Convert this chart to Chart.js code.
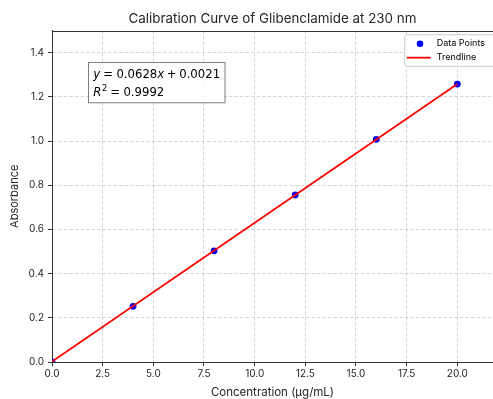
<!DOCTYPE html>
<html>
<head>
<meta charset="utf-8">
<script src="https://cdn.jsdelivr.net/npm/chart.js@4.4.1/dist/chart.umd.min.js"></script>
<style>
  html, body { margin: 0; padding: 0; background: #fff; overflow: hidden; }
  #wrap { width: 493px; height: 399px; }
</style>
</head>
<body>
<div id="wrap"><canvas id="myChart" width="493" height="399"></canvas></div>
<script>
// data
const concentration = [0, 4, 8, 12, 16, 20];
const absorbance = [0.000, 0.252, 0.503, 0.756, 1.008, 1.258];
const trendX = [0, 20];
const trendY = [0.0021, 1.2581];
const xTickValues = [0, 2.5, 5, 7.5, 10, 12.5, 15, 17.5, 20];
const yTickValues = [0, 0.2, 0.4, 0.6, 0.8, 1.0, 1.2, 1.4];
const slopeText = '0.0628';
const interceptText = '0.0021';
const r2Text = '0.9992';

const FONT = 'Inter, "DejaVu Sans", sans-serif';
const AXIS_COLOR = '#333333';
const TEXT_COLOR = '#262626';

// draws a run of text pieces (mathtext-like), returns end x
function drawPieces(ctx, x, y, size, pieces) {
  for (const p of pieces) {
    x += (p.gap || 0) * size;
    ctx.font = p.font;
    const dy = p.raise ? -p.raise : 0;
    ctx.fillText(p.text, x, y + dy);
    x += ctx.measureText(p.text).width;
  }
  return x;
}

function drawEquationBox(ctx, area) {
  const left = area.left + 36.5, top = area.top + 31.9;
  ctx.fillStyle = 'rgba(255,255,255,0.85)';
  ctx.fillRect(left, top, 136.5, 40.3);
  ctx.strokeStyle = 'rgba(0,0,0,0.5)';
  ctx.lineWidth = 1;
  ctx.strokeRect(left, top, 136.5, 40.3);

  const s = 11.7;
  const rm = `${s}px "DejaVu Sans"`;
  const it = `oblique ${s}px "DejaVu Sans"`;
  const sup = `${(s * 0.7).toFixed(1)}px "DejaVu Sans"`;
  ctx.fillStyle = '#000';
  ctx.textBaseline = 'alphabetic';
  ctx.textAlign = 'left';
  const tx = left + 4.7;
  drawPieces(ctx, tx, top + 15.9, s, [
    { text: 'y', font: it },
    { text: '=', font: rm, gap: 0.278 },
    { text: slopeText, font: rm, gap: 0.278 },
    { text: 'x', font: it },
    { text: '+', font: rm, gap: 0.222 },
    { text: interceptText, font: rm, gap: 0.222 }
  ]);
  drawPieces(ctx, tx, top + 33.2, s, [
    { text: 'R', font: it },
    { text: '2', font: sup, gap: 0.05, raise: s * 0.38 },
    { text: '=', font: rm, gap: 0.278 },
    { text: r2Text, font: rm, gap: 0.278 }
  ]);
}

function drawLegend(ctx, chart) {
  const area = chart.chartArea;
  const r = area.right, t = area.top + 4.1;
  const x0 = r - 88.3, w = 92, h = 31.6;
  ctx.fillStyle = 'rgba(255,255,255,0.8)';
  ctx.strokeStyle = '#cccccc';
  ctx.lineWidth = 1;
  ctx.beginPath();
  ctx.roundRect(x0, t, w, h, 2);
  ctx.fill();
  ctx.stroke();

  const ds = chart.data.datasets;
  // scatter marker
  ctx.fillStyle = ds[0].backgroundColor;
  ctx.beginPath();
  ctx.arc(r - 73, t + 9, 3.3, 0, Math.PI * 2);
  ctx.fill();
  // line sample
  ctx.strokeStyle = ds[1].borderColor;
  ctx.lineWidth = ds[1].borderWidth;
  ctx.beginPath();
  ctx.moveTo(r - 86.3, t + 23);
  ctx.lineTo(r - 62.3, t + 23);
  ctx.stroke();

  ctx.fillStyle = '#000';
  ctx.font = `9px ${FONT}`;
  ctx.textAlign = 'left';
  ctx.textBaseline = 'middle';
  ctx.fillText(ds[0].label, r - 56.3, t + 8.9);
  ctx.fillText(ds[1].label, r - 56.3, t + 22.7);
}

const decorations = {
  id: 'decorations',
  afterDatasetsDraw(chart) {
    const { ctx, chartArea } = chart;
    ctx.save();
    // top spine (matplotlib box)
    ctx.strokeStyle = AXIS_COLOR;
    ctx.lineWidth = 1;
    ctx.beginPath();
    ctx.moveTo(chartArea.left, Math.round(chartArea.top) + 0.5);
    ctx.lineTo(chartArea.right, Math.round(chartArea.top) + 0.5);
    ctx.stroke();
    drawEquationBox(ctx, chartArea);
    drawLegend(ctx, chart);
    ctx.restore();
  }
};

const gridOpts = {
  color: 'rgba(176,176,176,0.65)',
  lineWidth: 0.8,
  tickLength: 4,
  tickColor: AXIS_COLOR,
  tickWidth: 1,
  tickBorderDash: []
};
const borderOpts = { color: AXIS_COLOR, width: 1, dash: [3.5, 2] };

new Chart(document.getElementById('myChart'), {
  type: 'scatter',
  data: {
    datasets: [
      {
        label: 'Data Points',
        data: concentration.map((x, i) => ({ x: x, y: absorbance[i] })),
        backgroundColor: '#0000ff',
        borderColor: '#0000ff',
        pointRadius: 3.4,
        borderWidth: 0,
        order: 2
      },
      {
        label: 'Trendline',
        data: trendX.map((x, i) => ({ x: x, y: trendY[i] })),
        showLine: true,
        borderColor: '#ff0000',
        backgroundColor: '#ff0000',
        borderWidth: 1.8,
        pointRadius: 0,
        order: 1
      }
    ]
  },
  options: {
    responsive: false,
    animation: false,
    devicePixelRatio: 1,
    layout: { padding: 0, autoPadding: false },
    plugins: {
      legend: { display: false },
      tooltip: { enabled: false },
      title: {
        display: true,
        fullSize: false,
        text: 'Calibration Curve of Glibenclamide at 230 nm',
        color: TEXT_COLOR,
        font: { family: FONT, size: 13.4, weight: 'normal' },
        padding: { top: 11, bottom: 3.5 }
      }
    },
    scales: {
      x: {
        type: 'linear',
        min: 0,
        max: 21.76,
        afterBuildTicks: (scale) => { scale.ticks = xTickValues.map(v => ({ value: v })); },
        afterFit: (scale) => {
          scale.height = 37;
          scale.paddingLeft = 0;
          scale.paddingRight = 0;
        },
        ticks: {
          callback: (v) => Number(v).toFixed(1),
          color: TEXT_COLOR,
          font: { family: FONT, size: 10 },
          padding: 2,
          maxRotation: 0,
          autoSkip: false
        },
        grid: gridOpts,
        border: borderOpts,
        title: {
          display: true,
          text: 'Concentration (μg/mL)',
          color: TEXT_COLOR,
          font: { family: FONT, size: 11.5 },
          padding: { top: 0, bottom: 0 }
        }
      },
      y: {
        type: 'linear',
        min: 0,
        max: 1.5,
        afterBuildTicks: (scale) => { scale.ticks = yTickValues.map(v => ({ value: v })); },
        afterFit: (scale) => { scale.width = 52; },
        ticks: {
          callback: (v) => Number(v).toFixed(1),
          color: TEXT_COLOR,
          font: { family: FONT, size: 10 },
          padding: 4,
          autoSkip: false
        },
        grid: gridOpts,
        border: borderOpts,
        title: {
          display: true,
          text: 'Absorbance',
          color: TEXT_COLOR,
          font: { family: FONT, size: 11 },
          padding: { top: 8.4, bottom: 0 }
        }
      }
    }
  },
  plugins: [decorations]
});
</script>
</body>
</html>
